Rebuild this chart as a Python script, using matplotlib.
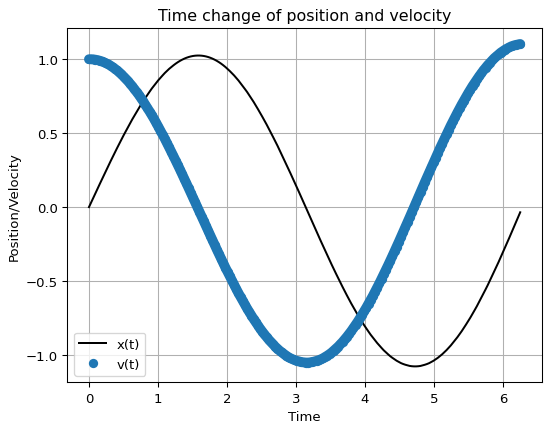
import numpy as np
import matplotlib
matplotlib.use("Agg")
import matplotlib.pyplot as plt

# values, 200 samples over 0 .. 6.25
position = [
    0.000, 0.031, 0.063, 0.094, 0.126, 0.157, 0.188, 0.219, 0.250, 0.280,
    0.311, 0.341, 0.370, 0.400, 0.429, 0.457, 0.486, 0.513, 0.541, 0.567,
    0.594, 0.619, 0.644, 0.669, 0.693, 0.716, 0.738, 0.760, 0.781, 0.802,
    0.821, 0.840, 0.858, 0.875, 0.891, 0.907, 0.921, 0.935, 0.947, 0.959,
    0.970, 0.980, 0.989, 0.997, 1.004, 1.010, 1.015, 1.019, 1.022, 1.024,
    1.025, 1.025, 1.024, 1.022, 1.019, 1.015, 1.010, 1.004, 0.997, 0.989,
    0.980, 0.970, 0.959, 0.947, 0.934, 0.920, 0.905, 0.890, 0.873, 0.856,
    0.837, 0.818, 0.798, 0.778, 0.756, 0.734, 0.711, 0.687, 0.662, 0.637,
    0.611, 0.585, 0.558, 0.530, 0.502, 0.473, 0.444, 0.415, 0.384, 0.354,
    0.323, 0.292, 0.260, 0.228, 0.196, 0.164, 0.131, 0.099, 0.066, 0.033,
    0.000, -0.033, -0.066, -0.099, -0.132, -0.165, -0.197, -0.230, -0.262, -0.294,
    -0.326, -0.358, -0.389, -0.420, -0.450, -0.480, -0.510, -0.539, -0.568, -0.596,
    -0.624, -0.651, -0.677, -0.703, -0.728, -0.752, -0.776, -0.799, -0.821, -0.842,
    -0.863, -0.882, -0.901, -0.919, -0.936, -0.952, -0.968, -0.982, -0.995, -1.008,
    -1.019, -1.029, -1.039, -1.047, -1.055, -1.061, -1.066, -1.070, -1.074, -1.076,
    -1.077, -1.077, -1.076, -1.074, -1.070, -1.066, -1.061, -1.055, -1.047, -1.039,
    -1.029, -1.019, -1.007, -0.995, -0.981, -0.967, -0.951, -0.935, -0.917, -0.899,
    -0.880, -0.860, -0.839, -0.817, -0.794, -0.771, -0.747, -0.722, -0.696, -0.670,
    -0.642, -0.615, -0.586, -0.557, -0.528, -0.497, -0.467, -0.435, -0.404, -0.372,
    -0.339, -0.307, -0.273, -0.240, -0.206, -0.172, -0.138, -0.104, -0.069, -0.035,
]

velocity = [
    1.000, 1.000, 0.999, 0.997, 0.994, 0.990, 0.985, 0.979, 0.972, 0.965,
    0.956, 0.946, 0.935, 0.924, 0.911, 0.898, 0.883, 0.868, 0.852, 0.835,
    0.817, 0.798, 0.779, 0.759, 0.738, 0.716, 0.693, 0.670, 0.646, 0.622,
    0.597, 0.571, 0.544, 0.517, 0.490, 0.462, 0.433, 0.404, 0.375, 0.345,
    0.315, 0.285, 0.254, 0.223, 0.192, 0.160, 0.128, 0.096, 0.064, 0.032,
    0.000, -0.032, -0.064, -0.097, -0.129, -0.161, -0.193, -0.224, -0.256, -0.287,
    -0.318, -0.349, -0.380, -0.410, -0.439, -0.469, -0.498, -0.526, -0.554, -0.582,
    -0.608, -0.635, -0.660, -0.686, -0.710, -0.734, -0.757, -0.779, -0.801, -0.822,
    -0.842, -0.861, -0.879, -0.897, -0.913, -0.929, -0.944, -0.958, -0.971, -0.983,
    -0.994, -1.004, -1.014, -1.022, -1.029, -1.035, -1.040, -1.044, -1.047, -1.050,
    -1.051, -1.051, -1.050, -1.047, -1.044, -1.040, -1.035, -1.029, -1.022, -1.013,
    -1.004, -0.994, -0.983, -0.970, -0.957, -0.943, -0.928, -0.912, -0.895, -0.877,
    -0.858, -0.839, -0.818, -0.797, -0.775, -0.752, -0.728, -0.704, -0.679, -0.653,
    -0.627, -0.600, -0.572, -0.544, -0.515, -0.485, -0.455, -0.425, -0.394, -0.363,
    -0.331, -0.299, -0.267, -0.234, -0.201, -0.168, -0.135, -0.101, -0.068, -0.034,
    0.000, 0.034, 0.068, 0.101, 0.135, 0.169, 0.202, 0.236, 0.269, 0.302,
    0.334, 0.367, 0.399, 0.430, 0.462, 0.493, 0.523, 0.553, 0.582, 0.611,
    0.639, 0.667, 0.694, 0.720, 0.746, 0.771, 0.795, 0.819, 0.841, 0.863,
    0.884, 0.904, 0.924, 0.942, 0.960, 0.976, 0.992, 1.007, 1.020, 1.033,
    1.045, 1.055, 1.065, 1.073, 1.081, 1.088, 1.093, 1.097, 1.100, 1.103,
]

# sample times: evenly spaced, last one read as 6.25
time = np.linspace(0.0, 6.25, len(position))

# reference looks like a default 6.4x4.8 figure shrunk a bit -> ~95.6 dpi
DPI = 95.6
fig = plt.figure(figsize=(544 / DPI, 423 / DPI), dpi=DPI)
ax = fig.add_axes([0.1239, 0.0934, 0.872, 0.8383])

ax.plot(time, position, color="k", label="x(t)")
# the dots in the reference are so dense they form a solid band
ax.plot(time, velocity, "-", color="C0", lw=7.4, solid_capstyle="round")
ax.plot(time, velocity, "o", color="C0", ms=7, mew=0, label="v(t)")

ax.set_title("Time change of position and velocity")
ax.set_xlabel("Time")
ax.set_ylabel("Position/Velocity")
ax.grid()
ax.legend(loc="lower left")

fig.savefig("out.png", dpi=DPI)
